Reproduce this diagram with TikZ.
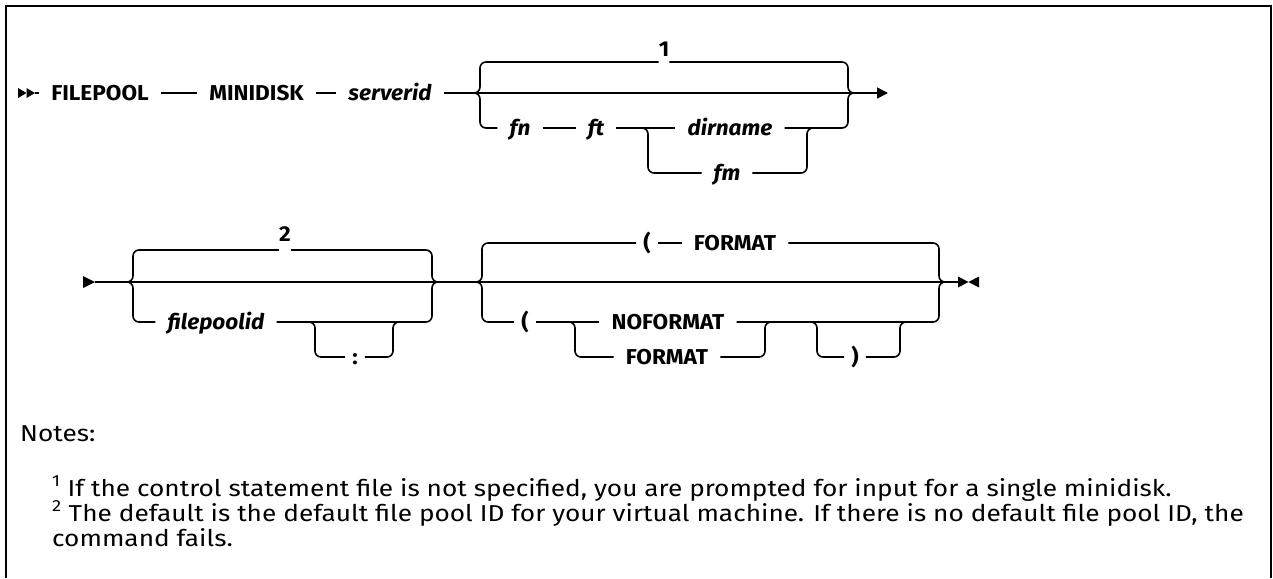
\documentclass[tikz,border=0pt]{standalone}
\usepackage{fontspec}
\setmainfont{Fira Sans}
\newfontfamily\railfont{Fira Sans}[FakeStretch=1.05]
\newfontfamily\notefont{Fira Sans}[FakeStretch=1.14]
\usetikzlibrary{arrows.meta,positioning,calc}

\tikzset{
  kw/.style={font=\railfont\bfseries\fontsize{21.5}{25}\selectfont, text height=15pt, text depth=0pt, inner xsep=12pt, inner ysep=0pt},
  var/.style={kw, font=\railfont\bfseries\itshape\fontsize{21.5}{25}\selectfont},
  sym/.style={kw, inner xsep=7pt},
  fnmark/.style={font=\railfont\bfseries\fontsize{21.5}{25}\selectfont, inner sep=0pt},
  rail/.style={line width=1.6pt, rounded corners=6pt},
  note/.style={font=\notefont\fontsize{23}{25}\selectfont, anchor=base west, inner sep=0pt},
}

\begin{document}
\begin{tikzpicture}[x=1pt,y=-1pt,>=Latex]
\useasboundingbox (0,0) rectangle (1273,578);
% frame
\draw[line width=2.5pt] (6,578) -- (6,6) -- (1271,6) -- (1271,578);

% first line
\fill (18,88) -- (26.5,93) -- (18,98) -- cycle;
\fill (26.5,88) -- (35,93) -- (26.5,98) -- cycle;
\coordinate (s1) at (35,93);
\node[kw] (filepool) at (100,93) {FILEPOOL};
\node[kw] (minidisk) at (256.5,93) {MINIDISK};
\node[var] (serverid) at (390,93) {serverid};
\draw[rail] (s1) -- (filepool);
\draw[rail] (filepool) -- (minidisk);
\draw[rail] (minidisk) -- (serverid);

\coordinate (g1l) at (474,93);
\coordinate (g1r) at (854,93);
\coordinate (e1) at (888,93);
\draw[rail,-{Triangle[length=11pt,width=11pt]}] (serverid) -- (e1);

% note 1 branch
\node[fnmark] (one) at (664,49) {1};
\coordinate (t1) at (480,62);
\coordinate (t1r) at (848,62);
\draw[rail] (g1l) -| (t1) -- (t1 -| one.west);
\draw[rail] (t1r -| one.east) -- (t1r) |- (g1r);

% fn ft branch
\coordinate (b1) at (480,128);
\coordinate (b1r) at (848,128);
\node[var] (fn) at (520,128) {fn};
\node[var] (ft) at (596,128) {ft};
\node[var] (dirname) at (730,128) {dirname};
\node[var] (fm) at (727,173) {fm};
\draw[rail] (g1l) -| (b1) -- (fn);
\draw[rail] (fn) -- (ft);
\draw[rail] (ft) -- (dirname);
\draw[rail] (dirname) -- (b1r) |- (g1r);
\coordinate (i1l) at (642,128);
\coordinate (i1r) at (807,128);
\draw[rail] (i1l) -| (648,173) -- (fm);
\draw[rail] (fm) -| (i1r) -- ++(6,0);

% second line
\fill (83,276) -- (95,282) -- (83,288) -- cycle;
\coordinate (s2) at (95,282);
\coordinate (e2) at (958,282);
\draw[rail] (s2) -- (e2);
\fill (958,276.5) -- (968.5,282) -- (958,287.5) -- cycle;
\fill (979,276.5) -- (968.5,282) -- (979,287.5) -- cycle;

% filepoolid group
\coordinate (g2l) at (127,282);
\coordinate (g2r) at (438,282);
\node[fnmark] (two) at (285,234) {2};
\coordinate (t2) at (133,250);
\coordinate (t2r) at (432,250);
\draw[rail] (g2l) -| (t2) -- (t2 -| two.west);
\draw[rail] (t2r -| two.east) -- (t2r) |- (g2r);
\coordinate (b2) at (133,322);
\coordinate (b2r) at (432,322);
\node[var] (filepoolid) at (216,322) {filepoolid};
\draw[rail] (g2l) -| (b2) -- (filepoolid);
\draw[rail] (filepoolid) -- (b2r) |- (g2r);
\node[sym] (colon) at (355,357) {:};
\coordinate (i2l) at (309,322);
\coordinate (i2r) at (393,322);
\draw[rail] (i2l) -| (315,357) -- (colon);
\draw[rail] (colon) -| (i2r) -- ++(6,0);

% format group
\coordinate (g3l) at (476,282);
\coordinate (g3r) at (945,282);
\coordinate (t3) at (482,243);
\coordinate (t3r) at (939,243);
\node[sym] (lpa) at (647,243) {(};
\node[kw] (formata) at (735,243) {FORMAT};
\draw[rail] (g3l) -| (t3) -- (lpa);
\draw[rail] (lpa) -- (formata);
\draw[rail] (formata) -- (t3r) |- (g3r);
\coordinate (b3) at (482,322);
\coordinate (b3r) at (939,322);
\node[sym] (lpb) at (525,322) {(};
\node[kw] (noformat) at (668,322) {NOFORMAT};
\node[kw] (formatb) at (667,357) {FORMAT};
\draw[rail] (g3l) -| (b3) -- (lpb);
\draw[rail] (lpb) -- (noformat);
\draw[rail] (noformat) -- (b3r) |- (g3r);
\coordinate (i3l) at (569,322);
\coordinate (i3r) at (765,322);
\draw[rail] (i3l) -| (575,357) -- (formatb);
\draw[rail] (formatb) -| (i3r) -- ++(6,0);
\node[sym] (rp) at (855,357) {)};
\coordinate (o3l) at (811,322);
\coordinate (o3r) at (900,322);
\draw[rail] (o3l) -| (817,357) -- (rp);
\draw[rail] (rp) -| (o3r) -- ++(6,0);

% notes
\node[note] (notes) at (20,441) {Notes:};
\node[note] (note1) at (52,496) {\textsuperscript{1} If the control statement file is not specified, you are prompted for input for a single minidisk.};
\node[note] (note2) at (52,521) {\textsuperscript{2} The default is the default file pool ID for your virtual machine. If there is no default file pool ID, the};
\node[note] (note2b) at (52,546) {command fails.};
\end{tikzpicture}
\end{document}
